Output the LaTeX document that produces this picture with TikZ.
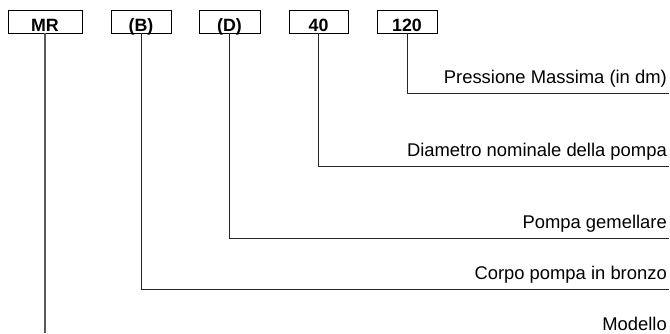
\documentclass[tikz,border=0pt]{standalone}
\usepackage{fontspec}
\setmainfont{Liberation Sans}
\begin{document}
\begin{tikzpicture}[x=1pt,y=-1pt,
  codebox/.style={draw=black,line width=0.9pt,minimum height=23pt,inner sep=0pt,text height=21pt,text depth=2pt,font=\fontsize{17.8}{20}\selectfont\bfseries},
  lab/.style={anchor=base east,inner sep=0pt,font=\fontsize{18.4}{20}\selectfont},
  conn/.style={draw=black!85,line width=0.9pt}]
\useasboundingbox (0,0) rectangle (670,333);
\node[codebox,minimum width=74pt] (mr) at (45,21.5) {MR};
\node[codebox,minimum width=60pt] (b) at (141,21.5) {(B)};
\node[codebox,minimum width=61pt] (d) at (229.5,21.5) {(D)};
\node[codebox,minimum width=59pt] (f) at (318.5,21.5) {40};
\node[codebox,minimum width=60pt] (h) at (407,21.5) {120};
\coordinate (eh) at (669,93);
\coordinate (ef) at (669,166);
\coordinate (ed) at (669,238);
\coordinate (eb) at (669,289);
\coordinate (emr) at (45,333);
\draw[conn] (h.south) |- (eh);
\draw[conn] (f.south) |- (ef);
\draw[conn] (d.south) |- (ed);
\draw[conn] (b.south) |- (eb);
\draw[conn,draw=black!65,line width=1.2pt] (mr.south) -- (emr);
\node[lab] (th) at (667,83) {Pressione Massima (in dm)};
\node[lab] (tf) at (667,156) {Diametro nominale della pompa};
\node[lab] (td) at (667,228) {Pompa gemellare};
\node[lab] (tb) at (667,279) {Corpo pompa in bronzo};
\node[lab] (tmr) at (667,330) {Modello};
\end{tikzpicture}
\end{document}
